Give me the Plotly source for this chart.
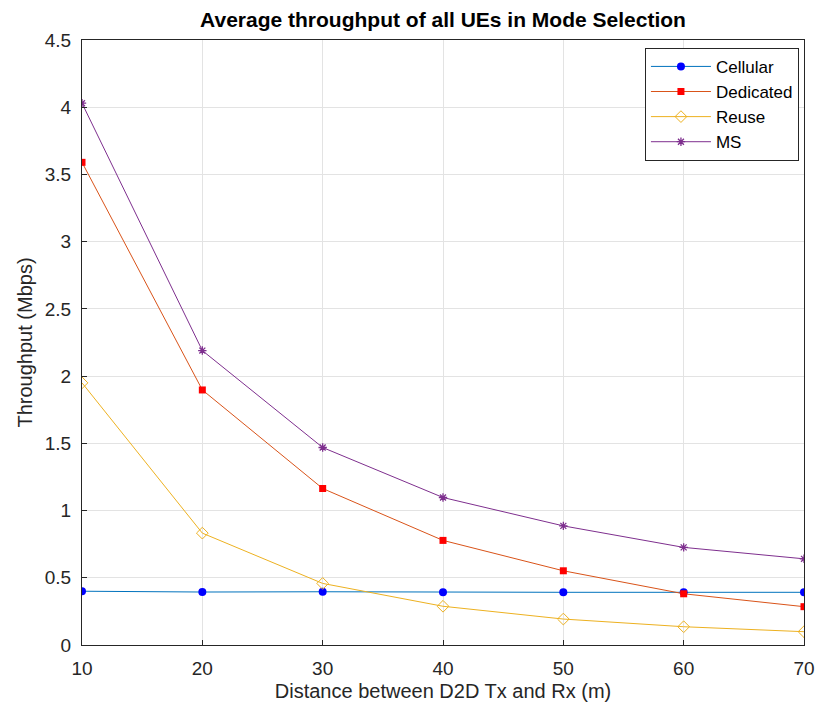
import plotly.graph_objects as go

distance = [10, 20, 30, 40, 50, 60, 70]
cellular = [0.40, 0.394, 0.396, 0.392, 0.392, 0.392, 0.392]
dedicated = [3.59, 1.897, 1.164, 0.778, 0.552, 0.381, 0.285]
reuse = [1.95, 0.832, 0.458, 0.288, 0.193, 0.136, 0.099]
ms = [4.03, 2.19, 1.469, 1.097, 0.886, 0.726, 0.641]

x_ticks = [10, 20, 30, 40, 50, 60, 70]
y_ticks = [0, 0.5, 1, 1.5, 2, 2.5, 3, 3.5, 4, 4.5]
y_tick_text = ["0", "0.5", "1", "1.5", "2", "2.5", "3", "3.5", "4", "4.5"]

fig = go.Figure()
fig.add_trace(go.Scatter(x=distance, y=cellular, name="Cellular", mode="lines+markers",
                         line=dict(color="#0072BD", width=1),
                         marker=dict(symbol="circle", size=8, color="#0000FF")))
fig.add_trace(go.Scatter(x=distance, y=dedicated, name="Dedicated", mode="lines+markers",
                         line=dict(color="#D95319", width=1),
                         marker=dict(symbol="square", size=7, color="#FF0000")))
fig.add_trace(go.Scatter(x=distance, y=reuse, name="Reuse", mode="lines+markers",
                         line=dict(color="#EDB120", width=1),
                         marker=dict(symbol="diamond-open", size=9, color="#EDB120", line=dict(width=1))))
fig.add_trace(go.Scatter(x=distance, y=ms, name="MS", mode="lines+markers",
                         line=dict(color="#7E2F8E", width=1),
                         marker=dict(symbol="asterisk-open", size=7, color="#7E2F8E", line=dict(width=1.3, color="#7E2F8E"))))

fig.update_layout(
    width=827, height=711,
    margin=dict(l=82, r=15, t=40, b=66),
    paper_bgcolor="white", plot_bgcolor="white",
    font=dict(family="Liberation Sans, Arial, sans-serif", color="#262626", size=18),
    title=dict(text="<b>Average throughput of all UEs in Mode Selection</b>",
               xref="paper", x=0.5, xanchor="center", y=0.972, yanchor="middle",
               font=dict(size=21, color="black")),
    legend=dict(x=0.993, y=0.987, xanchor="right", yanchor="top",
                bgcolor="white", bordercolor="#262626", borderwidth=1,
                font=dict(size=17, color="black"), tracegroupgap=0, itemwidth=60),
    showlegend=True,
)
fig.update_xaxes(range=[10, 70], tickvals=x_ticks, showgrid=True, gridcolor="#E3E3E3",
                 showline=True, linecolor="#262626", linewidth=1, mirror=True,
                 ticks="inside", ticklen=5, tickcolor="#262626", zeroline=False,
                 tickfont=dict(size=19), ticklabelstandoff=6,
                 title=dict(text="Distance between D2D Tx and Rx (m)", font=dict(size=20), standoff=6))
fig.update_yaxes(range=[0, 4.5], tickvals=y_ticks, ticktext=y_tick_text, showgrid=True, gridcolor="#E3E3E3",
                 showline=True, linecolor="#262626", linewidth=1, mirror=True,
                 ticks="inside", ticklen=5, tickcolor="#262626", zeroline=False,
                 tickfont=dict(size=19), ticklabelstandoff=6,
                 title=dict(text="Throughput (Mbps)", font=dict(size=20), standoff=6))

fig.write_html("out.html")
